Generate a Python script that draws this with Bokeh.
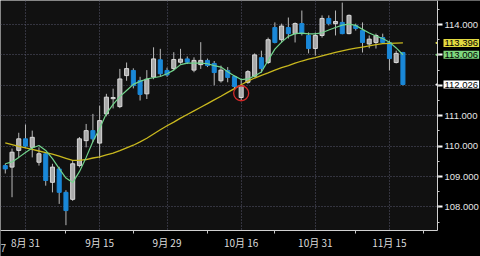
import math
import pandas as pd
from bokeh.plotting import figure
from bokeh.models import (Range1d, FixedTicker, SingleIntervalTicker, PrintfTickFormatter,
                          Label, ColumnDataSource, BoxAnnotation)
from bokeh.embed import file_html
from bokeh.resources import INLINE

# ---------------- data (USD/JPY daily) ----------------
dates = ["2017-08-28", "2017-08-29", "2017-08-30", "2017-08-31", "2017-09-01",
         "2017-09-04", "2017-09-05", "2017-09-06", "2017-09-07", "2017-09-08",
         "2017-09-11", "2017-09-12", "2017-09-13", "2017-09-14", "2017-09-15",
         "2017-09-18", "2017-09-19", "2017-09-20", "2017-09-21", "2017-09-22",
         "2017-09-25", "2017-09-26", "2017-09-27", "2017-09-28", "2017-09-29",
         "2017-10-02", "2017-10-03", "2017-10-04", "2017-10-05", "2017-10-06",
         "2017-10-09", "2017-10-10", "2017-10-11", "2017-10-12", "2017-10-13",
         "2017-10-16", "2017-10-17", "2017-10-18", "2017-10-19", "2017-10-20",
         "2017-10-23", "2017-10-24", "2017-10-25", "2017-10-26", "2017-10-27",
         "2017-10-30", "2017-10-31", "2017-11-01", "2017-11-02", "2017-11-03",
         "2017-11-06", "2017-11-07", "2017-11-08", "2017-11-09", "2017-11-10",
         "2017-11-13", "2017-11-14", "2017-11-15", "2017-11-16", "2017-11-17"]

opens = [109.36, 109.31, 109.86, 110.24, 109.96, 109.47, 109.75, 108.81, 109.25, 108.48,
         108.25, 109.36, 110.18, 110.51, 110.10, 111.06, 111.56, 111.30, 112.32, 112.49,
         112.16, 111.72, 112.27, 112.84, 112.49, 112.55, 112.76, 112.87, 112.50, 112.68,
         112.82, 112.72, 112.15, 112.49, 112.29, 111.60, 112.10, 112.30, 112.91, 112.75,
         113.90, 113.50, 113.90, 113.70, 114.03, 113.64, 113.21, 113.64, 114.20, 114.03,
         114.07, 113.70, 113.97, 113.80, 113.36, 113.41, 113.57, 113.41, 112.75, 113.08]
highs = [109.42, 109.92, 110.44, 110.71, 110.51, 109.96, 109.80, 109.42, 109.32, 108.55,
         109.53, 110.30, 110.73, 111.06, 111.33, 111.72, 111.89, 112.54, 112.75, 112.56,
         112.28, 112.50, 113.25, 113.20, 112.58, 113.09, 113.20, 112.95, 112.92, 113.42,
         112.88, 112.80, 112.65, 112.60, 112.32, 112.22, 112.50, 113.05, 113.14, 113.57,
         114.07, 114.03, 114.23, 114.07, 114.46, 113.74, 113.74, 114.30, 114.30, 114.46,
         114.72, 114.33, 114.03, 114.07, 113.64, 113.70, 113.70, 113.47, 113.14, 113.10]
lows = [109.10, 108.32, 109.62, 109.95, 109.63, 109.36, 108.70, 108.48, 108.10, 107.40,
        108.20, 109.30, 109.96, 110.13, 109.60, 110.98, 111.24, 111.25, 112.15, 111.90,
        111.50, 111.55, 112.20, 112.30, 112.28, 112.49, 112.71, 112.70, 112.43, 112.54,
        112.60, 112.00, 112.09, 112.10, 111.90, 111.50, 112.05, 112.26, 112.42, 112.70,
        113.38, 113.40, 113.54, 113.41, 113.64, 113.05, 112.98, 113.57, 113.97, 113.64,
        113.68, 113.68, 113.80, 113.08, 113.22, 113.21, 113.38, 112.49, 112.72, 112.00]
closes = [109.25, 109.80, 110.24, 110.00, 110.29, 109.75, 108.87, 109.31, 108.48, 107.88,
          109.42, 110.24, 110.51, 110.24, 110.84, 111.61, 111.60, 112.21, 112.55, 111.99,
          111.70, 112.20, 112.87, 112.38, 112.34, 112.85, 112.86, 112.76, 112.82, 112.82,
          112.65, 112.42, 112.50, 112.26, 111.96, 111.99, 112.45, 113.00, 112.55, 113.50,
          113.41, 113.95, 113.70, 114.03, 113.70, 113.21, 113.64, 114.20, 114.03, 114.10,
          113.70, 114.30, 113.87, 113.41, 113.52, 113.64, 113.41, 112.88, 113.05, 112.026]

# moving-average lines as drawn (green = short, yellow = long)
ma_short = [109.42, 109.48, 109.63, 109.79, 109.94, 110.02, 109.86, 109.59, 109.26, 108.95,
            108.80, 109.16, 109.63, 110.15, 110.58, 111.07, 111.37, 111.63, 111.83, 112.03,
            112.13, 112.21, 112.25, 112.29, 112.38, 112.50, 112.68, 112.73, 112.73, 112.73,
            112.71, 112.65, 112.60, 112.45, 112.31, 112.19, 112.21, 112.31, 112.44, 112.82,
            113.19, 113.42, 113.61, 113.70, 113.72, 113.69, 113.69, 113.73, 113.82, 113.90,
            113.98, 114.01, 113.97, 113.84, 113.72, 113.62, 113.54, 113.42, 113.23, 113.006]
ma_long = [110.11, 110.05, 109.99, 109.94, 109.89, 109.84, 109.79, 109.74, 109.67, 109.60,
           109.53, 109.53, 109.56, 109.61, 109.65, 109.71, 109.77, 109.85, 109.94, 110.03,
           110.14, 110.26, 110.40, 110.54, 110.67, 110.79, 110.92, 111.04, 111.16, 111.28,
           111.40, 111.52, 111.64, 111.77, 111.89, 112.02, 112.14, 112.24, 112.33, 112.41,
           112.50, 112.58, 112.65, 112.73, 112.80, 112.86, 112.91, 112.97, 113.03, 113.08,
           113.13, 113.18, 113.22, 113.26, 113.30, 113.34, 113.37, 113.38, 113.39, 113.396]

label_dates = ["2017-08-31", "2017-09-15", "2017-09-29", "2017-10-16", "2017-10-31", "2017-11-15"]
minor_tick_idx = [9, 19, 30, 40, 52, 62]
circle_date = "2017-10-16"
circle_price = 111.74
corner_text = "7"

# ---------------- layout constants (view window) ----------------
X0, X1 = -0.71, 70.51          # whole canvas width in day-index units
Y0, Y1 = 106.37, 114.79        # whole canvas height in price units
AX_X = 64.13                   # position of the price axis
AX_Y = 107.22                  # position of the date axis

# ---------------- build ----------------
idx = list(range(len(dates)))
up = [c >= o for o, c in zip(opens, closes)]
df = pd.DataFrame(dict(x=idx, o=opens, h=highs, l=lows, c=closes,
                       top=[max(o, c) for o, c in zip(opens, closes)],
                       bot=[min(o, c) for o, c in zip(opens, closes)]))
up_src = ColumnDataSource(df[up])
dn_src = ColumnDataSource(df[[not u for u in up]])
ma_src = ColumnDataSource(dict(x=idx, s=ma_short, l=ma_long))

p = figure(width=480, height=256, x_range=Range1d(X0, X1), y_range=Range1d(Y0, Y1),
           output_backend="svg", toolbar_location=None, x_axis_location="below",
           y_axis_location="right",
           min_border_left=0, min_border_top=0, min_border_right=0, min_border_bottom=0)
p.background_fill_color = "#111111"
p.border_fill_color = "#000000"
p.outline_line_color = None

# black margins (right of price axis / below date axis), drawn over grid, under axes
p.add_layout(BoxAnnotation(left=AX_X, fill_color="#000000", fill_alpha=1.0,
                           line_alpha=0, level="glyph"))
p.add_layout(BoxAnnotation(top=AX_Y, fill_color="#000000", fill_alpha=1.0,
                           line_alpha=0, level="glyph"))

# candles
p.segment(x0="x", y0="h", x1="x", y1="l", source=up_src, line_color="#b8b8b8", line_width=1)
p.segment(x0="x", y0="h", x1="x", y1="l", source=dn_src, line_color="#b8b8b8", line_width=1)
p.vbar(x="x", top="top", bottom="bot", width=0.6, source=up_src,
       fill_color="#a9a9a9", line_color="#d8d8d8", line_width=1)
p.vbar(x="x", top="top", bottom="bot", width=0.6, source=dn_src,
       fill_color="#1a88d8", line_color="#1a88d8", line_width=1)

# moving averages
p.line(x="x", y="l", source=ma_src, line_color="#c9b81e", line_width=1.3)
p.line(x="x", y="s", source=ma_src, line_color="#72d48c", line_width=1.2)

# red circle marker
p.scatter(x=[dates.index(circle_date)], y=[circle_price], marker="circle", size=15,
          fill_color=None, line_color="#d42a2a", line_width=1.3)

# x axis (fixed at the bottom of the chart area)
major_idx = [dates.index(d) for d in label_dates]
xa = p.xaxis[0]
xa.fixed_location = AX_Y
xa.bounds = (X0, AX_X)
xa.ticker = FixedTicker(ticks=major_idx, minor_ticks=minor_tick_idx)
xa.major_label_overrides = {i: f"{pd.Timestamp(d).month}月 {pd.Timestamp(d).day}"
                            for i, d in zip(major_idx, label_dates)}
xa.major_tick_out = 0
xa.major_tick_in = 0
xa.minor_tick_out = 3
xa.minor_tick_in = 0
xa.minor_tick_line_color = "#c8c8c8"
xa.axis_line_color = "#d0d0d0"
xa.major_label_text_color = "#dcdcdc"
xa.major_label_text_font = "Noto Sans CJK JP"
xa.major_label_text_font_size = "10px"
xa.major_label_standoff = 1

# y axis (fixed at the right edge of the chart area)
ya = p.yaxis[0]
ya.fixed_location = AX_X
ya.bounds = (AX_Y, Y1)
ya.ticker = SingleIntervalTicker(interval=1, num_minor_ticks=2)
ya.formatter = PrintfTickFormatter(format="%.3f")
ya.major_tick_out = 5
ya.major_tick_in = 0
ya.major_tick_line_width = 2
ya.major_tick_line_color = "#ffffff"
ya.minor_tick_out = 2
ya.minor_tick_in = 0
ya.minor_tick_line_color = "#c8c8c8"
ya.axis_line_color = "#d0d0d0"
ya.major_label_text_color = "#e6e6e6"
ya.major_label_text_font = "Liberation Sans"
ya.major_label_text_font_size = "9.5px"
ya.major_label_standoff = 2

# grids
for g in (p.xgrid[0], p.ygrid[0]):
    g.grid_line_color = "#58586e"
    g.grid_line_dash = "1 2"
    g.grid_line_width = 1

# price tags on the price axis
tags = [(ma_long[-1], "#e2da40"), (ma_short[-1], "#7ed87e"), (closes[-1], "#ffffff")]
for val, col in tags:
    p.scatter(x=[AX_X + 0.5], y=[val], marker="triangle", angle=math.pi / 2, size=9,
              fill_color=col, line_color=col)
    p.add_layout(Label(x=AX_X, y=val, x_offset=6, text=f"{val:.3f}",
                       text_font="Liberation Sans", text_font_size="9.5px", text_color="#000000",
                       text_baseline="middle", text_align="left",
                       background_fill_color=col, padding=1))

# small text in the lower-left corner
p.add_layout(Label(x=X0, y=Y0, x_offset=0, y_offset=9, text=corner_text,
                   text_font="Liberation Sans", text_font_size="10px", text_color="#cfcfcf",
                   text_align="left", text_baseline="middle"))

open("out.html", "w").write(file_html(p, INLINE))
